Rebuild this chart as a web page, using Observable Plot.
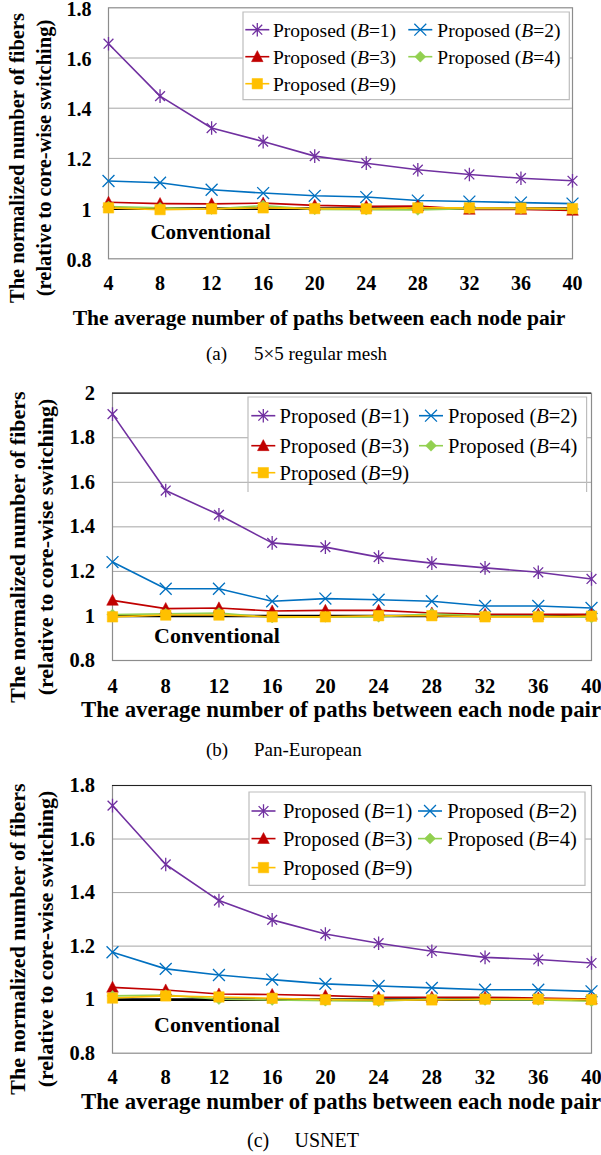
<!DOCTYPE html>
<html>
<head>
<meta charset="utf-8">
<script src="https://cdn.jsdelivr.net/npm/d3@7"></script>
<script src="https://cdn.jsdelivr.net/npm/@observablehq/plot@0.6"></script>
<style>
  body { margin: 0; background: #fff; }
  #root { position: relative; width: 601px; height: 1155px; background: #fff; overflow: hidden; font-family: "Liberation Serif", "Times New Roman", serif; color: #000; }
  .abs { position: absolute; white-space: nowrap; font-family: "Liberation Serif", "Times New Roman", serif; }
  .c { transform: translate(-50%, -50%); }
  .ytitle { font-weight: bold; transform: translate(-50%, -50%) rotate(-90deg); }
  .xtitle { font-weight: bold; }
</style>
</head>
<body>
<div id="root"></div>
<script>
// ---------- data ----------
const xValues = [4, 8, 12, 16, 20, 24, 28, 32, 36, 40];
const xTicks = [4, 8, 12, 16, 20, 24, 28, 32, 36, 40];
const seriesB = ["1", "2", "3", "4", "9"];

// (a) 5x5 regular mesh
const meshTicksY = [0.8, 1.0, 1.2, 1.4, 1.6, 1.8];
const meshConv = [1, 1, 1, 1, 1, 1, 1, 1, 1, 1];
const meshB1 = [1.657, 1.448, 1.321, 1.267, 1.209, 1.181, 1.155, 1.136, 1.121, 1.111];
const meshB2 = [1.110, 1.103, 1.075, 1.062, 1.051, 1.046, 1.032, 1.028, 1.024, 1.020];
const meshB3 = [1.025, 1.020, 1.019, 1.022, 1.013, 1.009, 1.010, 0.997, 0.997, 0.993];
const meshB4 = [1.008, 1.003, 0.998, 1.012, 0.997, 0.996, 0.995, 1.000, 1.000, 0.998];
const meshB9 = [1.003, 0.996, 0.999, 1.003, 1.000, 0.999, 1.003, 1.003, 1.002, 1.000];

// (b) Pan-European
const panTicksY = [0.8, 1.0, 1.2, 1.4, 1.6, 1.8, 2.0];
const panConv = [1, 1, 1, 1, 1, 1, 1, 1, 1, 1];
const panB1 = [1.906, 1.563, 1.454, 1.328, 1.309, 1.264, 1.237, 1.216, 1.196, 1.166];
const panB2 = [1.242, 1.122, 1.122, 1.066, 1.078, 1.073, 1.066, 1.045, 1.045, 1.036];
const panB3 = [1.070, 1.033, 1.036, 1.022, 1.025, 1.025, 1.013, 1.007, 1.007, 1.007];
const panB4 = [1.006, 1.010, 1.013, 0.993, 0.996, 0.996, 1.010, 1.000, 1.000, 0.993];
const panB9 = [0.996, 1.004, 1.004, 0.996, 0.996, 1.001, 1.001, 0.996, 0.996, 0.999];

// (c) USNET
const usTicksY = [0.8, 1.0, 1.2, 1.4, 1.6, 1.8];
const usConv = [1, 1, 1, 1, 1, 1, 1, 1, 1, 1];
const usB1 = [1.725, 1.505, 1.370, 1.298, 1.245, 1.211, 1.181, 1.158, 1.150, 1.137];
const usB2 = [1.177, 1.115, 1.092, 1.075, 1.059, 1.051, 1.044, 1.037, 1.037, 1.031];
const usB3 = [1.046, 1.036, 1.021, 1.019, 1.015, 1.009, 1.009, 1.009, 1.006, 1.002];
const usB4 = [1.014, 1.017, 1.002, 0.999, 0.996, 0.994, 1.002, 0.999, 0.999, 0.994];
const usB9 = [1.006, 1.014, 1.010, 1.005, 1.000, 0.999, 0.999, 1.002, 1.002, 1.000];

const yTitle1 = "The normalized number of fibers";
const yTitle2 = "(relative to core-wise switching)";
const xTitle = "The average number of paths between each node pair";
const convLabel = "Conventional";

// ---------- styles ----------
const colors = ["#7030A0", "#0070C0", "#C00000", "#92D050", "#FFC000"];
const serif = "'Liberation Serif', 'Times New Roman', serif";

const symAsterisk = { draw(ctx, size) { const r = Math.sqrt(size / Math.PI); const d = r * 0.72;
  ctx.moveTo(0, -r); ctx.lineTo(0, r); ctx.moveTo(-d, -d); ctx.lineTo(d, d); ctx.moveTo(-d, d); ctx.lineTo(d, -d); } };
const symTimes = { draw(ctx, size) { const r = Math.sqrt(size / Math.PI) * 0.85;
  ctx.moveTo(-r, -r); ctx.lineTo(r, r); ctx.moveTo(-r, r); ctx.lineTo(r, -r); } };
const symTriangle = { draw(ctx, size) { const r = Math.sqrt(size / Math.PI);
  ctx.moveTo(0, -r * 1.05); ctx.lineTo(r, r * 0.85); ctx.lineTo(-r, r * 0.85); ctx.closePath(); } };
const symDiamond = { draw(ctx, size) { const r = Math.sqrt(size / Math.PI);
  ctx.moveTo(0, -r); ctx.lineTo(r, 0); ctx.lineTo(0, r); ctx.lineTo(-r, 0); ctx.closePath(); } };
const symSquare = { draw(ctx, size) { const r = Math.sqrt(size / Math.PI) * 0.9;
  ctx.rect(-r, -r, 2 * r, 2 * r); } };

const markStyles = [
  { symbol: symAsterisk, r: 6.8, filled: false },
  { symbol: symTimes, r: 7, filled: false },
  { symbol: symTriangle, r: 5.8, filled: true },
  { symbol: symDiamond, r: 5.5, filled: true },
  { symbol: symSquare, r: 5.8, filled: true }
];

const root = document.getElementById("root");

function addDiv(text, left, top, cls, styleObj) {
  const d = document.createElement("div");
  d.className = "abs " + cls;
  d.textContent = text;
  d.style.left = left + "px";
  d.style.top = top + "px";
  Object.assign(d.style, styleObj || {});
  root.appendChild(d);
  return d;
}

function makePanel(cfg) {
  const rows = [];
  cfg.series.forEach((vals, si) => vals.forEach((v, i) => rows.push({ x: xValues[i], y: v, s: si })));
  const conv = cfg.conv.map((v, i) => ({ x: xValues[i], y: v }));
  const marks = [
    Plot.gridY(cfg.yTicks.slice(1, -1), { stroke: "#a6a6a6", strokeOpacity: 1, strokeWidth: 1 }),
    Plot.frame({ stroke: "#8c8c8c", strokeWidth: 1.2 }),
    cfg.darkTop ? Plot.ruleY([cfg.yDomain[1]], { stroke: "#222", strokeWidth: 1.2 }) : null,
    Plot.line(conv, { x: "x", y: "y", stroke: "#000", strokeWidth: 2.6 }),
    Plot.axisY({ ticks: cfg.yTicks, tickSize: 0, tickPadding: cfg.yPad, fontSize: cfg.tickFont, fontWeight: "bold",
      label: null, dy: cfg.yDy || 0, tickFormat: d => String(Math.round(d * 10) / 10) }),
    Plot.axisX({ ticks: xTicks, tickSize: 0, tickPadding: cfg.xPad, fontSize: cfg.tickFont, fontWeight: "bold",
      label: null, tickFormat: d => String(d) })
  ];
  cfg.series.forEach((vals, si) => {
    const data = rows.filter(r => r.s === si);
    marks.push(Plot.line(data, { x: "x", y: "y", stroke: colors[si], strokeWidth: 1.6 }));
  });
  cfg.series.forEach((vals, si) => {
    const data = rows.filter(r => r.s === si);
    const ms = markStyles[si];
    marks.push(Plot.dot(data, { x: "x", y: "y", symbol: ms.symbol, r: ms.r,
      fill: ms.filled ? colors[si] : "none", stroke: colors[si], strokeWidth: ms.filled ? 0.5 : 1.3 }));
  });
  const chart = Plot.plot({
    width: 601, height: cfg.height,
    marginLeft: cfg.ml, marginRight: cfg.mr, marginTop: cfg.mt, marginBottom: cfg.mb,
    x: { type: "linear", domain: [4, 40], label: null },
    y: { type: "linear", domain: cfg.yDomain, label: null },
    style: { fontFamily: serif, fontSize: cfg.tickFont + "px", fontWeight: "bold", color: "#000", background: "transparent", overflow: "visible" },
    marks: marks.filter(Boolean)
  });
  chart.style.position = "absolute";
  chart.style.left = "0px";
  chart.style.top = cfg.top + "px";
  root.appendChild(chart);

  addDiv(convLabel, cfg.conv_x, cfg.conv_y, "c", { fontWeight: "bold", fontSize: cfg.convFont + "px" });
  addDiv(yTitle1, cfg.yt1x, cfg.ytCy, "ytitle", { fontSize: cfg.ytFont + "px" });
  addDiv(yTitle2, cfg.yt2x, cfg.ytCy, "ytitle", { fontSize: cfg.ytFont + "px" });
  addDiv(xTitle, cfg.xtx, cfg.xty, "c xtitle", { fontSize: cfg.xtFont + "px" });
  addDiv(cfg.capA, cfg.capAx, cfg.capY, "", { fontSize: cfg.capFont + "px", transform: "translateY(-50%)" });
  addDiv(cfg.capB, cfg.capBx, cfg.capY, "", { fontSize: cfg.capFont + "px", transform: "translateY(-50%)" });

  // legend
  const L = cfg.legend;
  const svg = d3.select(root).append("svg")
    .attr("width", L.w + 2).attr("height", L.h + 2)
    .style("position", "absolute").style("left", (L.x - 1) + "px").style("top", (L.y - 1) + "px")
    .style("overflow", "visible");
  const g = svg.append("g").attr("transform", "translate(1,1)");
  g.append("rect").attr("width", L.w).attr("height", L.fillH || L.h).attr("fill", "#fff");
  const border = L.openBottom
    ? `M0,${L.h}V0H${L.w}V${L.h}`
    : `M0,0H${L.w}V${L.h}H0Z`;
  g.append("path").attr("d", border).attr("fill", "none").attr("stroke", "#bdbdbd").attr("stroke-width", 1.2);
  const pos = [[0, 0], [1, 0], [0, 1], [1, 1], [0, 2]];
  pos.forEach(([c, r], si) => {
    const sx = L.symX[c], tx = L.textX[c], yy = L.rowY[r];
    g.append("line").attr("x1", sx - 12).attr("x2", sx + 12).attr("y1", yy).attr("y2", yy)
      .attr("stroke", colors[si]).attr("stroke-width", 1.6);
    const ms = markStyles[si];
    const p = d3.path();
    ms.symbol.draw(p, Math.PI * ms.r * ms.r);
    g.append("path").attr("d", p.toString()).attr("transform", `translate(${sx},${yy})`)
      .attr("fill", ms.filled ? colors[si] : "none").attr("stroke", colors[si])
      .attr("stroke-width", ms.filled ? 0.5 : 1.3);
    const t = g.append("text").attr("x", tx).attr("y", yy).attr("dy", "0.35em")
      .style("font-family", serif).style("font-size", L.font + "px");
    t.append("tspan").text("Proposed (");
    t.append("tspan").attr("font-style", "italic").text("B");
    t.append("tspan").text("=" + seriesB[si] + ")");
  });
}

makePanel({
  top: 0, height: 300, ml: 108, mr: 29, mt: 7.3, mb: 41.7,
  yDomain: [0.8, 1.8], yTicks: meshTicksY, yPad: 17, yDy: 1.5, xPad: 17, tickFont: 20,
  conv: meshConv, series: [meshB1, meshB2, meshB3, meshB4, meshB9], darkTop: false,
  conv_x: 210.5, conv_y: 232, convFont: 21,
  yt1x: 16.8, yt2x: 44, ytCy: 158, ytFont: 20.5,
  xtx: 319, xty: 318, xtFont: 21.6,
  capA: "(a)", capAx: 206, capB: "5×5 regular mesh", capBx: 254, capY: 354, capFont: 19,
  legend: { x: 242.7, y: 12.3, w: 326.3, h: 87.7, font: 19.5,
    rowY: [17.7, 44.7, 71.7], symX: [14.3, 177.3], textX: [30, 194.3] }
});

makePanel({
  top: 380, height: 320, ml: 112, mr: 10, mt: 12.7, mb: 40,
  yDomain: [0.8, 2.0], yTicks: panTicksY, yPad: 17.5, xPad: 18, tickFont: 20.5,
  conv: panConv, series: [panB1, panB2, panB3, panB4, panB9], darkTop: true,
  conv_x: 217, conv_y: 635.7, convFont: 22,
  yt1x: 17.7, yt2x: 46, ytCy: 547, ytFont: 22,
  xtx: 341, xty: 710, xtFont: 22.8,
  capA: "(b)", capAx: 206, capB: "Pan-European", capBx: 254, capY: 750, capFont: 19,
  legend: { x: 247.7, y: 397, w: 338.6, h: 95, fillH: 81, openBottom: true, font: 20.5,
    rowY: [18.7, 48.7, 75.7], symX: [15.3, 183], textX: [31.6, 200] }
});

makePanel({
  top: 770, height: 320, ml: 112, mr: 10, mt: 15, mb: 37.3,
  yDomain: [0.8, 1.8], yTicks: usTicksY, yPad: 17.5, xPad: 16.5, tickFont: 20.5,
  conv: usConv, series: [usB1, usB2, usB3, usB4, usB9], darkTop: true,
  conv_x: 217, conv_y: 1025, convFont: 22,
  yt1x: 17.7, yt2x: 46, ytCy: 939, ytFont: 22,
  xtx: 341, xty: 1101.7, xtFont: 22.8,
  capA: "(c)", capAx: 247, capB: "USNET", capBx: 294.5, capY: 1140, capFont: 20,
  legend: { x: 248.5, y: 791.7, w: 336, h: 93.3, font: 20.5,
    rowY: [19, 46.6, 75.6], symX: [14.5, 181], textX: [33.9, 198.3] }
});
</script>
</body>
</html>
